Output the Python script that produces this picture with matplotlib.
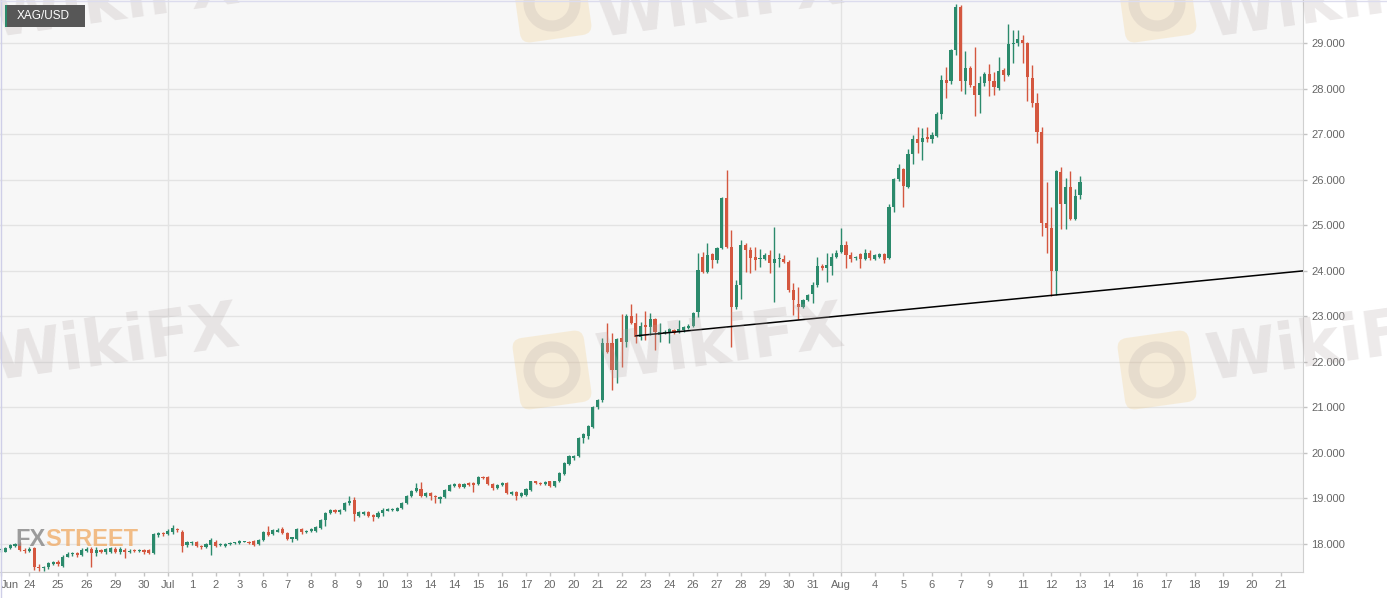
import numpy as np
import matplotlib.pyplot as plt
from matplotlib.patches import FancyBboxPatch, Rectangle, Circle
from matplotlib.transforms import Affine2D

plt.rcParams['font.family'] = ['Liberation Sans', 'DejaVu Sans']

# XAG/USD 4h candles, Jun 24 - Aug 13
opens = [17.86, 17.83, 17.90, 17.95, 17.99, 17.87, 17.84, 17.90, 17.50, 17.46,
         17.48, 17.56, 17.61, 17.52, 17.72, 17.77, 17.80, 17.76, 17.85, 17.89,
         17.79, 17.86, 17.81, 17.82, 17.89, 17.81, 17.87, 17.83, 17.86, 17.84,
         17.86, 17.86, 17.79, 18.19, 18.24, 18.22, 18.25, 18.32, 18.27, 17.97,
         18.01, 18.03, 17.95, 17.93, 17.97, 18.05, 17.97, 17.96, 18.00, 18.01,
         18.02, 18.05, 18.05, 18.06, 17.99, 18.08, 18.27, 18.22, 18.27, 18.32,
         18.24, 18.10, 18.10, 18.32, 18.25, 18.28, 18.29, 18.35, 18.52, 18.67,
         18.74, 18.69, 18.74, 18.89, 18.96, 18.61, 18.66, 18.69, 18.63, 18.59,
         18.67, 18.73, 18.75, 18.73, 18.78, 18.90, 19.05, 19.15, 19.20, 19.05,
         19.12, 19.05, 18.98, 19.02, 19.17, 19.27, 19.31, 19.24, 19.33, 19.34,
         19.31, 19.47, 19.46, 19.31, 19.22, 19.29, 19.34, 19.10, 19.14, 19.05,
         19.07, 19.18, 19.37, 19.34, 19.31, 19.37, 19.27, 19.37, 19.53, 19.76,
         19.88, 19.92, 20.32, 20.36, 20.57, 21.00, 21.15, 22.41, 22.41, 21.82,
         22.52, 22.44, 23.01, 22.85, 22.55, 22.81, 22.77, 22.93, 22.59, 22.63,
         22.63, 22.70, 22.66, 22.69, 22.74, 22.79, 23.10, 24.30, 23.98, 24.37,
         24.24, 24.50, 25.59, 24.52, 23.21, 23.69, 24.57, 24.46, 24.31, 24.26,
         24.25, 24.35, 24.17, 24.25, 24.25, 24.20, 23.58, 23.28, 23.21, 23.36,
         23.50, 23.69, 24.11, 24.05, 24.11, 24.31, 24.42, 24.57, 24.35, 24.27,
         24.37, 24.25, 24.40, 24.25, 24.31, 24.36, 24.27, 25.41, 26.01, 26.23,
         25.85, 26.57, 26.89, 26.82, 26.95, 26.89, 26.96, 27.45, 28.20, 28.18,
         28.85, 29.79, 28.16, 28.45, 28.06, 27.86, 28.12, 28.33, 28.16, 28.01,
         28.41, 28.30, 28.98, 29.01, 29.06, 29.01, 28.23, 27.68, 27.04, 25.04,
         24.93, 24.00, 26.18, 25.47, 25.85, 25.13, 25.66]
highs = [17.90, 17.93, 18.00, 18.02, 18.03, 17.90, 17.92, 17.93, 17.55, 17.52,
         17.60, 17.63, 17.64, 17.75, 17.82, 17.83, 17.83, 17.90, 17.93, 17.92,
         17.93, 17.88, 17.91, 17.93, 17.92, 17.92, 17.90, 17.88, 17.88, 17.88,
         17.89, 17.89, 18.24, 18.27, 18.27, 18.32, 18.41, 18.35, 18.30, 18.07,
         18.07, 18.06, 17.97, 18.02, 18.12, 18.08, 18.01, 18.02, 18.03, 18.05,
         18.08, 18.07, 18.07, 18.08, 18.10, 18.29, 18.38, 18.33, 18.34, 18.36,
         18.26, 18.16, 18.35, 18.35, 18.31, 18.34, 18.38, 18.54, 18.70, 18.77,
         18.76, 18.77, 18.91, 19.04, 19.02, 18.72, 18.71, 18.72, 18.65, 18.71,
         18.78, 18.78, 18.79, 18.80, 18.92, 19.07, 19.19, 19.33, 19.35, 19.13,
         19.14, 19.07, 19.05, 19.20, 19.32, 19.34, 19.33, 19.34, 19.35, 19.36,
         19.49, 19.50, 19.50, 19.33, 19.31, 19.36, 19.36, 19.16, 19.16, 19.13,
         19.22, 19.39, 19.39, 19.36, 19.37, 19.39, 19.39, 19.57, 19.79, 19.95,
         19.96, 20.35, 20.44, 20.61, 21.03, 21.18, 22.52, 22.85, 22.64, 22.52,
         23.05, 23.04, 23.27, 23.08, 22.88, 23.12, 23.08, 22.96, 22.85, 22.69,
         22.74, 22.73, 22.92, 22.79, 22.82, 23.10, 24.40, 24.42, 24.60, 24.40,
         24.52, 25.61, 26.22, 24.90, 23.80, 24.68, 24.60, 24.52, 24.52, 24.47,
         24.40, 24.46, 24.97, 24.40, 24.35, 24.24, 23.74, 23.64, 23.38, 23.50,
         23.76, 24.31, 24.15, 24.38, 24.38, 24.46, 24.93, 24.66, 24.42, 24.33,
         24.39, 24.47, 24.46, 24.37, 24.40, 24.38, 25.47, 26.04, 26.34, 26.26,
         26.67, 26.99, 27.15, 27.13, 27.15, 27.06, 27.48, 28.30, 28.47, 28.88,
         29.86, 29.84, 28.82, 28.49, 28.91, 28.28, 28.36, 28.55, 28.36, 28.69,
         28.45, 29.42, 29.29, 29.29, 29.18, 29.03, 28.52, 27.90, 27.15, 25.96,
         25.41, 26.22, 26.29, 26.03, 26.20, 25.79, 26.08]
lows = [17.82, 17.81, 17.88, 17.93, 17.84, 17.80, 17.82, 17.42, 17.40, 17.41,
        17.45, 17.53, 17.52, 17.48, 17.70, 17.74, 17.72, 17.73, 17.82, 17.48,
        17.74, 17.79, 17.78, 17.80, 17.79, 17.78, 17.69, 17.80, 17.82, 17.81,
        17.78, 17.77, 17.77, 18.16, 18.18, 18.20, 18.22, 18.27, 17.82, 17.93,
        17.98, 17.92, 17.88, 17.90, 17.76, 17.93, 17.95, 17.94, 17.97, 17.99,
        18.00, 18.03, 18.00, 17.96, 17.97, 18.06, 18.18, 18.20, 18.25, 18.22,
        18.08, 18.04, 18.08, 18.22, 18.23, 18.26, 18.27, 18.33, 18.40, 18.65,
        18.67, 18.66, 18.72, 18.86, 18.49, 18.58, 18.64, 18.59, 18.49, 18.57,
        18.60, 18.71, 18.73, 18.71, 18.76, 18.88, 19.03, 19.13, 19.03, 19.03,
        18.96, 18.90, 18.89, 19.00, 19.15, 19.25, 19.23, 19.22, 19.28, 19.14,
        19.29, 19.42, 19.29, 19.19, 19.20, 19.27, 19.09, 19.07, 18.96, 19.03,
        19.05, 19.16, 19.31, 19.29, 19.29, 19.25, 19.25, 19.35, 19.51, 19.74,
        19.85, 19.90, 20.21, 20.30, 20.55, 20.96, 21.12, 22.20, 21.38, 21.54,
        21.89, 22.33, 22.82, 22.41, 22.48, 22.48, 22.59, 22.26, 22.44, 22.60,
        22.41, 22.61, 22.63, 22.66, 22.71, 22.77, 22.99, 23.95, 23.95, 24.05,
        24.17, 24.48, 24.50, 22.33, 23.15, 23.37, 23.98, 23.94, 24.02, 24.08,
        24.24, 23.94, 23.32, 24.09, 24.16, 23.54, 23.03, 22.93, 23.18, 23.34,
        23.29, 23.65, 24.02, 23.76, 23.91, 24.28, 24.40, 24.05, 24.20, 24.24,
        24.05, 24.23, 24.24, 24.23, 24.29, 24.17, 24.25, 25.30, 25.98, 25.40,
        25.82, 26.35, 26.58, 26.44, 26.84, 26.80, 26.94, 27.33, 27.79, 28.11,
        28.74, 27.96, 27.89, 28.03, 27.40, 27.46, 28.06, 27.84, 27.86, 27.98,
        28.16, 28.27, 28.56, 28.93, 28.56, 27.72, 27.59, 26.80, 24.77, 24.38,
        23.45, 23.47, 24.91, 24.91, 25.12, 25.11, 25.57]
closes = [17.87, 17.90, 17.97, 18.00, 17.86, 17.84, 17.88, 17.50, 17.46, 17.48,
          17.57, 17.60, 17.55, 17.72, 17.78, 17.80, 17.75, 17.86, 17.89, 17.80,
          17.86, 17.82, 17.88, 17.90, 17.81, 17.89, 17.81, 17.85, 17.84, 17.86,
          17.81, 17.79, 18.21, 18.23, 18.21, 18.29, 18.34, 18.30, 17.95, 18.04,
          18.04, 17.96, 17.92, 17.99, 18.08, 17.96, 17.99, 18.00, 18.01, 18.03,
          18.06, 18.05, 18.02, 17.98, 18.08, 18.27, 18.20, 18.30, 18.31, 18.24,
          18.10, 18.14, 18.33, 18.25, 18.29, 18.32, 18.36, 18.52, 18.68, 18.74,
          18.69, 18.74, 18.89, 18.95, 18.65, 18.69, 18.69, 18.61, 18.58, 18.68,
          18.74, 18.76, 18.77, 18.78, 18.90, 19.05, 19.17, 19.22, 19.05, 19.11,
          19.05, 19.02, 19.02, 19.18, 19.29, 19.31, 19.25, 19.31, 19.30, 19.29,
          19.47, 19.44, 19.31, 19.22, 19.29, 19.34, 19.11, 19.14, 19.05, 19.11,
          19.20, 19.37, 19.33, 19.31, 19.35, 19.27, 19.37, 19.55, 19.77, 19.92,
          19.93, 20.32, 20.41, 20.58, 21.00, 21.15, 22.41, 22.22, 21.82, 22.49,
          22.44, 23.01, 22.85, 22.55, 22.79, 22.77, 22.93, 22.66, 22.66, 22.66,
          22.71, 22.64, 22.71, 22.76, 22.79, 23.07, 24.02, 23.98, 24.35, 24.24,
          24.50, 25.59, 24.52, 23.21, 23.69, 24.57, 24.46, 24.27, 24.24, 24.29,
          24.35, 24.17, 24.25, 24.28, 24.20, 23.58, 23.36, 23.21, 23.36, 23.47,
          23.69, 24.11, 24.05, 24.13, 24.31, 24.40, 24.57, 24.35, 24.25, 24.31,
          24.25, 24.40, 24.27, 24.35, 24.37, 24.24, 25.41, 26.01, 26.25, 25.86,
          26.57, 26.89, 26.80, 26.91, 26.89, 26.99, 27.45, 28.19, 28.13, 28.85,
          29.79, 28.16, 28.45, 28.08, 27.86, 28.12, 28.33, 28.16, 28.03, 28.40,
          28.30, 28.98, 29.01, 29.09, 29.00, 28.25, 27.68, 27.06, 25.04, 24.93,
          24.00, 26.20, 25.47, 25.85, 25.13, 25.64, 25.94]

# x axis labels (candle index where each label sits)
tick_pos = [0, 6, 12, 18, 24, 30, 35, 40, 45, 50, 55, 60, 65, 70, 75, 80,
            85, 90, 95, 100, 105, 110, 115, 120, 125, 130, 135, 140, 145, 150,
            155, 160, 165, 170, 176, 183, 189, 195, 201, 207, 214, 220, 226,
            232, 238, 244, 250, 256, 262, 268]
tick_labels = ['Jun', '24', '25', '26', '29', '30', 'Jul', '1', '2', '3', '6', '7',
               '8', '8', '9', '10', '13', '14', '14', '15', '16', '17', '20', '20',
               '21', '22', '23', '24', '26', '27', '28', '29', '30', '31', 'Aug',
               '4', '5', '6', '7', '9', '11', '12', '13', '14', '16', '17', '18',
               '19', '20', '21']
month_pos = [35, 176]
y_ticks = list(range(18, 30))

# support trend line
trend_x = [133, 273]
trend_y = [22.57, 24.0]

up_col = '#2b8a6c'
down_col = '#d4573f'

W, H = 1387, 598
fig = plt.figure(figsize=(W / 100, H / 100), dpi=100)
fig.patch.set_facecolor('white')
ax = fig.add_axes([0, 26 / H, 1303 / W, 572 / H])
ax.set_facecolor('#f7f7f7')

o = np.array(opens)
h = np.array(highs)
l = np.array(lows)
c = np.array(closes)
x = np.arange(len(o))
cols = np.where(c >= o, up_col, down_col)

ax.vlines(x, l, h, colors=cols, linewidth=1, zorder=3)
ax.bar(x, np.maximum(np.abs(c - o), 0.02), bottom=np.minimum(o, c), width=0.66,
       color=cols, linewidth=0, zorder=4)

ax.plot(trend_x, trend_y, color='black', linewidth=1.1, zorder=5)

ax.set_xlim(-0.15, 272.7)
ax.set_ylim(17.38, 29.95)
ax.yaxis.tick_right()
ax.set_yticks(y_ticks)
ax.set_yticklabels(['%.3f' % v for v in y_ticks])
ax.set_xticks(tick_pos)
ax.set_xticklabels(tick_labels)
ax.get_xticklabels()[0].set_horizontalalignment('left')
ax.tick_params(axis='both', colors='#c4c4c4', labelcolor='#666666',
               labelsize=8, length=3, width=1, pad=3)
ax.grid(axis='y', color='#e3e3e3', linewidth=1)
for m in month_pos:
    ax.axvline(m, color='#e3e3e3', linewidth=1, zorder=0)
ax.set_axisbelow(True)
for s in ['top', 'left']:
    ax.spines[s].set_visible(False)
for s in ['right', 'bottom']:
    ax.spines[s].set_color('#d0d0d0')

# FXStreet mark, lower left
fx = fig.text(15 / W, 1 - 539 / H, 'FX', color='#8c8c8c', alpha=0.85, fontsize=17,
              fontweight='bold', va='center', ha='left', zorder=1)
fig.canvas.draw()
fx_box = fx.get_window_extent()
fig.text(fx_box.x1 / W, 1 - 539 / H, 'STREET', color='#f0a860', alpha=0.75,
         fontsize=17, fontweight='bold', va='center', ha='left', zorder=1)

# WikiFX watermarks
for tx, ty in [(115, 2), (720, 2), (1330, 2), (115, 345), (720, 345), (1330, 345)]:
    fig.text(tx / W, 1 - ty / H, 'WikiFX', color='#b4a8a8', alpha=0.24,
             fontsize=46, fontweight='bold', rotation=8, ha='center', va='center',
             family='DejaVu Sans', zorder=10)
for lx, ly in [(552, 3), (1157, 3), (552, 370), (1157, 370)]:
    cx, cy = lx, H - ly
    rot = Affine2D().rotate_deg_around(cx, cy, 8)
    sq = FancyBboxPatch((cx - 36, cy - 36), 72, 72,
                        boxstyle='round,pad=0,rounding_size=10',
                        facecolor='#f2c46e', edgecolor='none', alpha=0.22,
                        transform=rot, zorder=10)
    fig.add_artist(sq)
    ring = Circle((cx, cy), 23, facecolor='none', edgecolor='#b4a8a8',
                  linewidth=8, alpha=0.22, transform=rot, zorder=10)
    fig.add_artist(ring)

# symbol tag top-left
fig.add_artist(Rectangle((5 / W, 1 - 27 / H), 80 / W, 22 / H, transform=fig.transFigure,
                         facecolor='#575757', edgecolor='none', zorder=11))
fig.add_artist(Rectangle((5 / W, 1 - 27 / H), 2 / W, 22 / H, transform=fig.transFigure,
                         facecolor=up_col, edgecolor='none', zorder=12))
fig.text(17 / W, 1 - 16 / H, 'XAG/USD', color='white', fontsize=8.5,
         va='center', ha='left', zorder=12)

# thin frame on left/top
fig.add_artist(plt.Line2D([0.5 / W, 0.5 / W], [0, 1], color='#cfcfe8', linewidth=1,
                          transform=fig.transFigure, zorder=12))
fig.add_artist(plt.Line2D([0, 1], [1 - 0.5 / H, 1 - 0.5 / H], color='#dcdcee',
                          linewidth=1, transform=fig.transFigure, zorder=12))

fig.savefig('out.png', dpi=100)
